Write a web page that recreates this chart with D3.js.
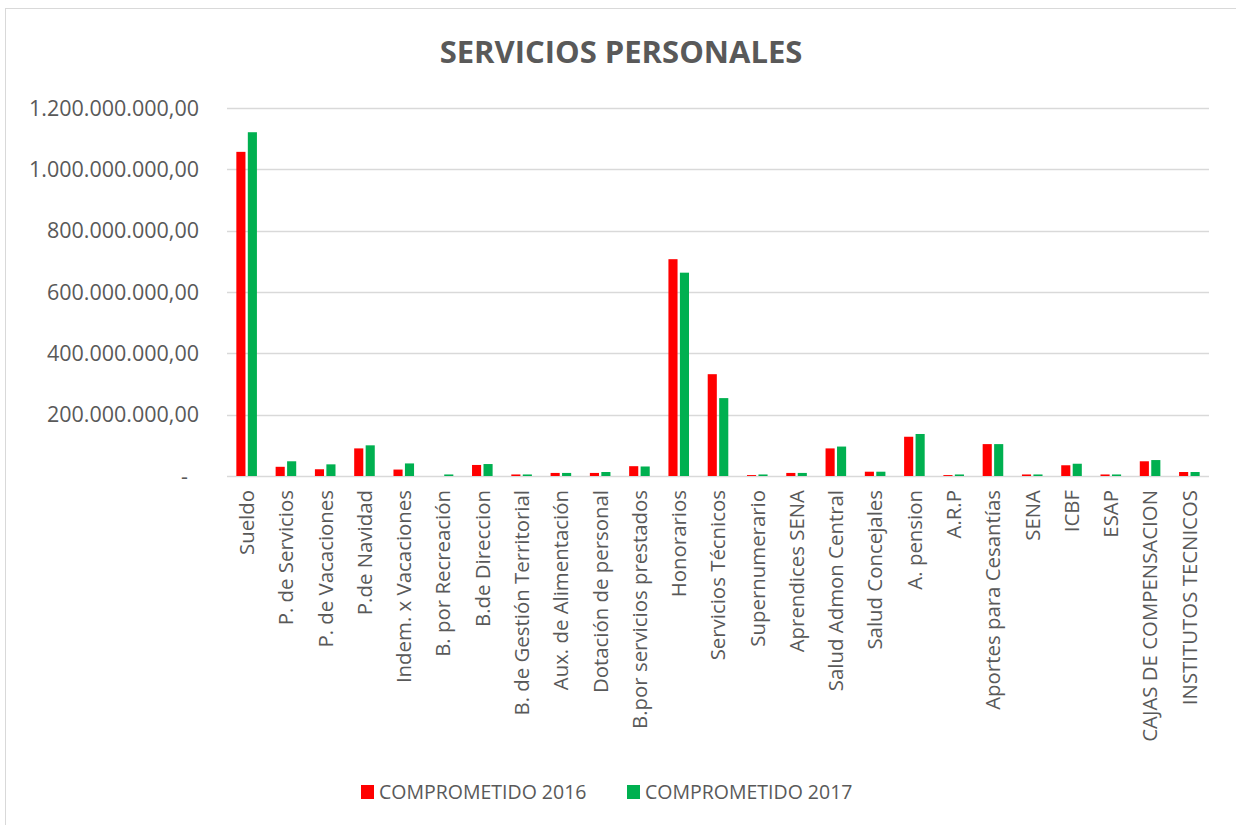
<!DOCTYPE html>
<html>
<head>
<meta charset="utf-8">
<script src="https://cdn.jsdelivr.net/npm/d3@7"></script>
<style>
  html, body { margin: 0; padding: 0; background: #fff; }
  svg { display: block; }
  text { font-family: "Open Sans", "Noto Sans", sans-serif; fill: #595959; }
</style>
</head>
<body>
<svg id="chart" width="1236" height="825"></svg>
<script>
// Rubros de servicios personales y valores comprometidos por año (pesos)
const categories = [
  "Sueldo", "P. de Servicios", "P. de Vacaciones", "P.de Navidad",
  "Indem. x Vacaciones", "B. por Recreación", "B.de Direccion",
  "B. de Gestión Territorial", "Aux. de Alimentación", "Dotación de personal",
  "B.por servicios prestados", "Honorarios", "Servicios Técnicos",
  "Supernumerario", "Aprendices SENA", "Salud Admon Central",
  "Salud Concejales", "A. pension", "A.R.P", "Aportes para Cesantías",
  "SENA", "ICBF", "ESAP", "CAJAS DE COMPENSACION", "INSTITUTOS TECNICOS"
];
const comprometido2016 = [
  1057000000, 30000000, 22000000, 90000000, 21000000, 0, 36000000,
  5000000, 10000000, 10000000, 32000000, 707000000, 332000000,
  3000000, 10000000, 90000000, 14000000, 128000000, 3000000, 104000000,
  5000000, 35000000, 5000000, 48000000, 13000000
];
const comprometido2017 = [
  1121000000, 48000000, 38000000, 100000000, 41000000, 5000000, 39000000,
  5000000, 10000000, 13000000, 31000000, 663000000, 254000000,
  5000000, 10000000, 96000000, 14000000, 137000000, 5000000, 104000000,
  5000000, 40000000, 5000000, 52000000, 13000000
];
const seriesNames = ["COMPROMETIDO 2016", "COMPROMETIDO 2017"];
const seriesColors = ["#FF0000", "#00B050"];
const yTicks = [0, 200000000, 400000000, 600000000, 800000000, 1000000000, 1200000000];
const title = "SERVICIOS PERSONALES";

const svg = d3.select("#chart");

// Chart frame
svg.append("rect")
  .attr("x", 5.5).attr("y", 8.5)
  .attr("width", 1240).attr("height", 830)
  .attr("fill", "#fff").attr("stroke", "#D9D9D9").attr("stroke-width", 1);

const plot = { left: 227, right: 1209, top: 108, bottom: 476 };

const x = d3.scaleBand()
  .domain(categories)
  .range([plot.left, plot.right])
  .padding(0);

const y = d3.scaleLinear()
  .domain([0, 1200000000])
  .range([plot.bottom, plot.top]);

// Number format with "." thousands and "," decimals; zero shown as "-"
const esLocale = d3.formatLocale({ decimal: ",", thousands: ".", grouping: [3], currency: ["$", ""] });
const fmt = esLocale.format(",.2f");

// Gridlines
svg.append("g")
  .selectAll("line")
  .data(yTicks)
  .join("line")
  .attr("x1", plot.left).attr("x2", plot.right)
  .attr("y1", d => Math.round(y(d)) + 0.5)
  .attr("y2", d => Math.round(y(d)) + 0.5)
  .attr("stroke", "#D9D9D9")
  .attr("stroke-width", d => d === 0 ? 1.5 : 1.3);

// Y axis labels
const yAxis = d3.axisLeft(y)
  .tickValues(yTicks)
  .tickSize(0)
  .tickPadding(0)
  .tickFormat(d => d === 0 ? "-" : fmt(d));

const gy = svg.append("g")
  .attr("transform", `translate(199,0)`)
  .call(yAxis);
gy.select(".domain").remove();
gy.selectAll("text")
  .attr("font-size", 21.5)
  .attr("fill", "#595959")
  .attr("dy", "0.34em")
  .attr("dx", d => d === 0 ? -11 : 0)
  .style("font-family", '"Open Sans", sans-serif');

// Bars
const bw = x.bandwidth();
const barW = bw * 0.232;
const gap = bw * 0.06;
const groupW = barW * 2 + gap;
const seriesData = [comprometido2016, comprometido2017];

seriesData.forEach((vals, si) => {
  svg.append("g")
    .selectAll("rect")
    .data(categories.map((c, i) => ({ c, v: vals[i] })))
    .join("rect")
    .attr("x", d => x(d.c) + (bw - groupW) / 2 + si * (barW + gap))
    .attr("width", barW)
    .attr("y", d => y(d.v))
    .attr("height", d => y(0) - y(d.v))
    .attr("fill", seriesColors[si]);
});

// X axis labels (rotated)
const xAxis = d3.axisBottom(x).tickSize(0).tickPadding(0);
const gx = svg.append("g")
  .attr("transform", `translate(0,${plot.bottom})`)
  .call(xAxis);
gx.select(".domain").remove();
gx.selectAll("text")
  .attr("font-size", 20.4)
  .attr("fill", "#595959")
  .attr("text-anchor", "end")
  .attr("transform", "rotate(-90)")
  .attr("x", -14)
  .attr("y", 0)
  .attr("dy", "0.36em")
  .style("font-family", '"Open Sans", sans-serif');

// Title
svg.append("text")
  .attr("x", 621)
  .attr("y", 63)
  .attr("text-anchor", "middle")
  .attr("font-size", 31)
  .attr("font-weight", "bold")
  .attr("fill", "#595959")
  .text(title);

// Legend
const legendX = [361, 627];
const lg = svg.append("g");
seriesNames.forEach((name, i) => {
  lg.append("rect")
    .attr("x", legendX[i]).attr("y", 785)
    .attr("width", 13).attr("height", 14)
    .attr("fill", seriesColors[i]);
  lg.append("text")
    .attr("x", legendX[i] + 18)
    .attr("y", 799)
    .attr("font-size", 19.5)
    .attr("fill", "#595959")
    .text(name);
});
</script>
</body>
</html>
